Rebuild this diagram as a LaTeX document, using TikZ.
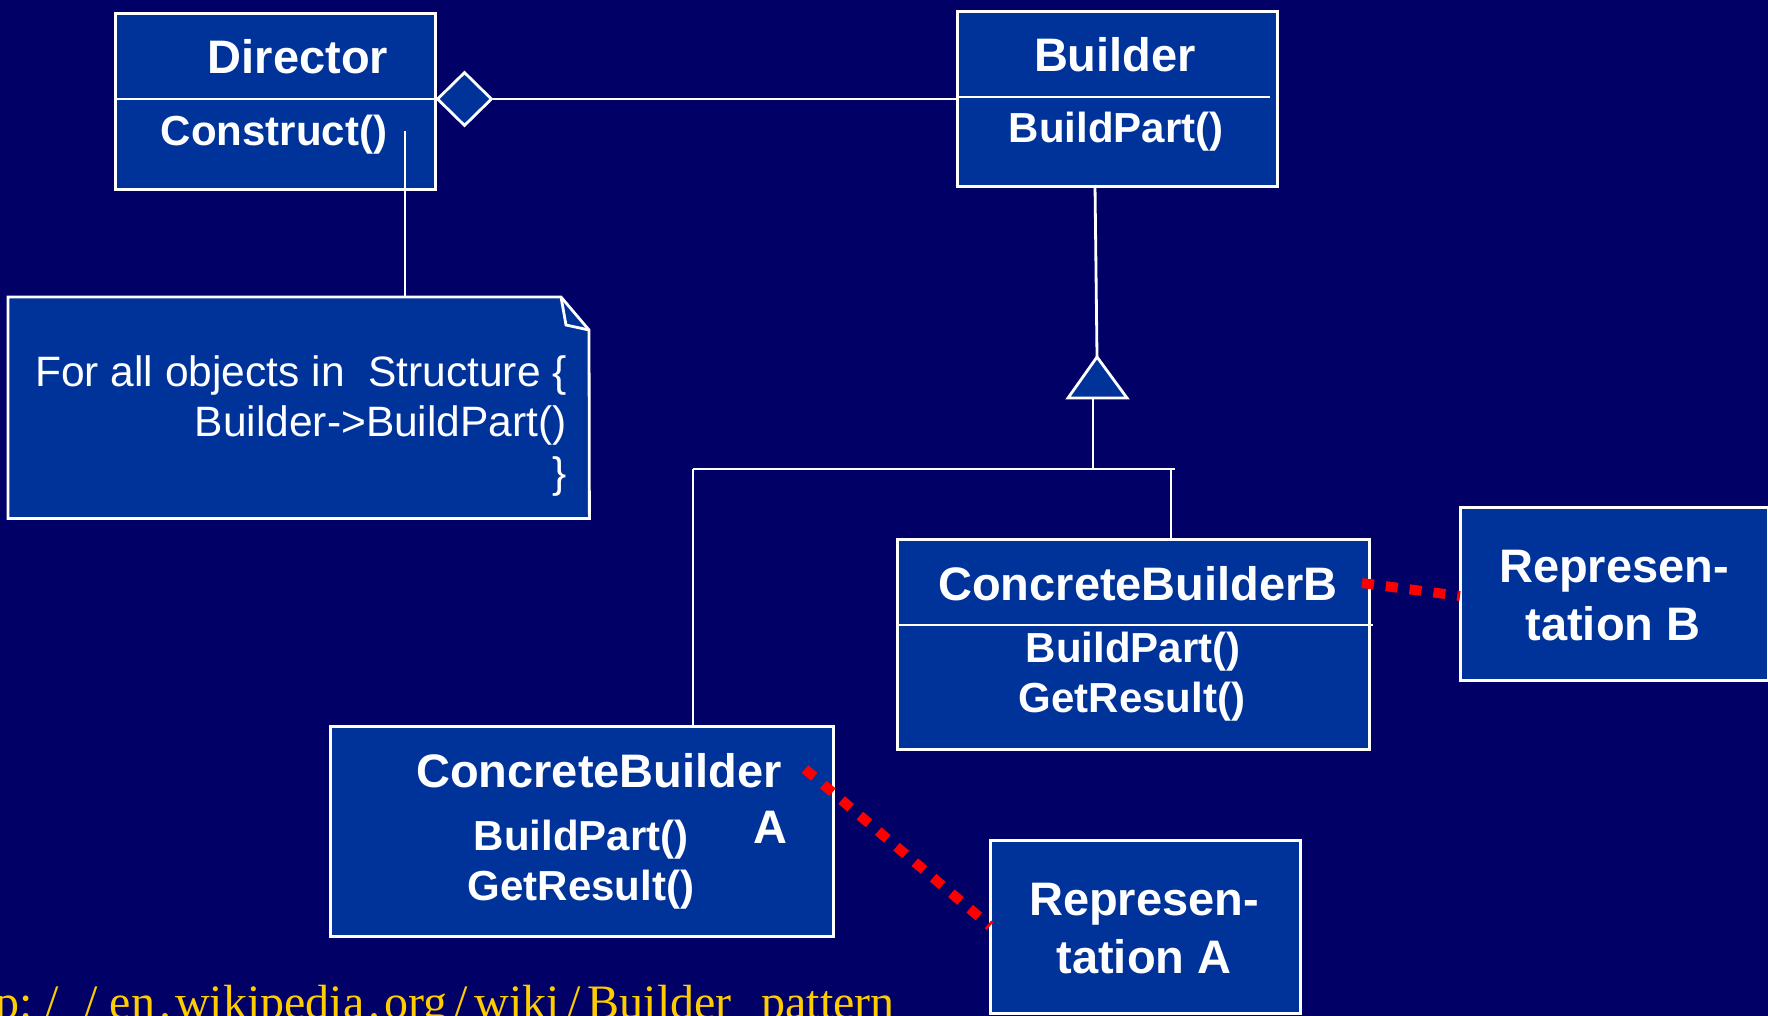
\documentclass[tikz,border=0pt]{standalone}
\usepackage{fontspec}
\setmainfont{Liberation Sans}
\newfontfamily\linkfont{Liberation Serif}
\usetikzlibrary{shapes.geometric}
\definecolor{bgnavy}{HTML}{000066}
\definecolor{boxblue}{HTML}{003399}
\definecolor{linkgold}{HTML}{FFCC00}
\definecolor{assocred}{HTML}{FF0000}
% widely spaced punctuation of the link line
\newcommand{\linkslash}{\kern7pt/\kern7pt}
\newcommand{\linkdot}{\kern4pt.\kern4pt}
\begin{document}
\begin{tikzpicture}[x=1pt,y=-1pt,
  umlbox/.style={draw=white, line width=2.8pt, fill=boxblue, anchor=north west, inner sep=0pt},
  umlline/.style={draw=white, line width=2.8pt},
  redlink/.style={draw=assocred, line width=10pt, dash pattern=on 12pt off 12pt},
  title/.style={font=\fontsize{47}{50}\selectfont\bfseries, text=white, inner sep=0pt, anchor=base},
  method/.style={font=\fontsize{42}{50}\selectfont\bfseries, text=white, inner sep=0pt, anchor=base},
  notetext/.style={font=\fontsize{42.5}{50}\selectfont, text=white, inner sep=0pt, anchor=base east}]

% page and background
\fill[bgnavy] (0,0) rectangle (1768,1016);
\useasboundingbox (0,0) rectangle (1768,1016);
\clip (0,0) rectangle (1768,1016);

% class boxes
\node[umlbox, minimum width=320pt, minimum height=176pt] (director) at (114,12) {};
\node[umlbox, minimum width=320pt, minimum height=175pt] (builder) at (956,10) {};
\node[umlbox, minimum width=472pt, minimum height=210pt] (cbb) at (896,538) {};
\node[umlbox, minimum width=503pt, minimum height=210pt] (cba) at (329,725) {};
\node[umlbox, minimum width=308pt, minimum height=173pt] (repB) at (1459,506) {};
\node[umlbox, minimum width=310pt, minimum height=173pt] (repA) at (989,839) {};

% compartment dividers
\draw[umlline] (117,99) -- (434,99);
\draw[umlline] (956,97) -- (1270,97);
\draw[umlline] (896,625) -- (1373,625);

% note with folded corner
\node[inner sep=0pt, minimum width=581pt, minimum height=221pt, anchor=north west] (note) at (8,297) {};
\filldraw[umlline, fill=boxblue, line join=miter]
  (note.north west) -- (561,297) -- (589,330) -- (note.south east) -- (note.south west) -- cycle;
\draw[umlline, line join=miter] (561,297) -- (566,325) -- (589,330);

% class texts
\node[title] at (298,74) {Director};
\node[method] at (274,146) {Construct()};
\node[title] at (1115,72) {Builder};
\node[method] at (1116,143) {BuildPart()};
\node[title] at (1138,600) {ConcreteBuilderB};
\node[method] at (1133,662) {BuildPart()};
\node[method] at (1132,712) {GetResult()};
\node[title] at (599,787) {ConcreteBuilder};
\node[title] at (770,843) {A};
\node[method] at (581,850) {BuildPart()};
\node[method] at (581,900) {GetResult()};
\node[title] at (1614,582) {Represen-};
\node[title] at (1613,640) {tation B};
\node[title] at (1144,915) {Represen-};
\node[title] at (1144,973) {tation A};

% note texts
\node[notetext] at (567,386) {For all objects in\ \ Structure \{};
\node[notetext] at (567,436) {Builder->BuildPart()};
\node[notetext] at (567,487) {\}};

% aggregation: Director <>--- Builder
\node[diamond, draw=white, line width=2.8pt, fill=boxblue, inner sep=0pt,
      minimum width=55pt, minimum height=54pt] (agg) at (464.5,99) {};
\draw[umlline] (agg.east) -- (builder.west |- agg.east);

% note anchor line from Construct()
\coordinate (dirtail) at (405,131);
\draw[umlline] (dirtail) -- (dirtail |- note.north);

% generalization tree
\coordinate (builderfoot) at (1095,185);
\coordinate (apex) at (1097,357);
\coordinate (stemtop) at (1093,398);
\coordinate (joint) at (1093,469);
\coordinate (barL) at (693,469);
\coordinate (barR) at (1175,469);
\coordinate (dropB) at (1171,469);
\draw[umlline] (builderfoot) -- (apex);
\filldraw[umlline, fill=boxblue, line join=miter] (apex) -- (1127,398) -- (1068,398) -- cycle;
\draw[umlline] (stemtop) -- (joint);
\draw[umlline] (barL) -- (barR);
\draw[umlline] (barL) -- (barL |- cba.north);
\draw[umlline] (dropB) -- (dropB |- cbb.north);

% product associations
\coordinate (redB1) at (1362,583);
\coordinate (redB2) at (1460,596);
\coordinate (redA1) at (805,769);
\coordinate (redA2) at (990,926);
\draw[redlink] (redB1) -- (redB2);
\draw[redlink] (redA1) -- (redA2);

% source link
\node[anchor=base east, inner sep=0pt, text=linkgold, font=\linkfont\fontsize{48}{50}\selectfont]
  (url) at (895,1018)
  {http:\kern12pt/\kern26pt/\kern12pt en\linkdot wikipedia\linkdot org\linkslash wiki\linkslash Builder\kern3pt\_\kern3pt pattern};
\end{tikzpicture}
\end{document}
